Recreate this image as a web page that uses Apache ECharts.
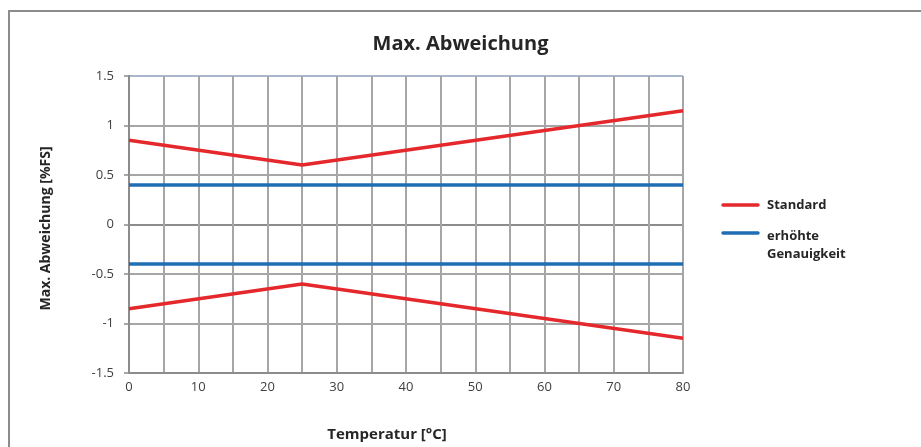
<!DOCTYPE html>
<html>
<head>
<meta charset="utf-8">
<title>Max. Abweichung</title>
<script src="https://cdn.jsdelivr.net/npm/echarts@6/dist/echarts.min.js"></script>
<style>
  html, body { margin: 0; padding: 0; background: #fff; }
  #chart { width: 921px; height: 447px; }
</style>
</head>
<body>
<div id="chart"></div>
<script>
// Temperature breakpoints (°C) and maximum deviation (%FS)
const stdTemps = [0, 25, 80];
const stdUpper = [0.85, 0.6, 1.15];
const stdLower = [-0.85, -0.6, -1.15];

const hiTemps = [0, 80];
const hiUpper = [0.4, 0.4];
const hiLower = [-0.4, -0.4];

const seriesNames = ['Standard', 'erhöhte Genauigkeit'];
const xTickLabels = [0, 10, 20, 30, 40, 50, 60, 70, 80];

const RED = '#e4282b';
const BLUE = '#1f6db4';
const FONT = '"Open Sans", "Noto Sans", sans-serif';

const pairs = (xs, ys) => xs.map((x, i) => [x, ys[i]]);

const chart = echarts.init(document.getElementById('chart'), null, { renderer: 'canvas' });

chart.setOption({
  animation: false,
  backgroundColor: '#fff',
  textStyle: { fontFamily: FONT },
  title: {
    text: 'Max. Abweichung',
    left: 'center',
    top: 29,
    textStyle: { fontFamily: FONT, fontSize: 20, fontWeight: 'bold', color: '#262626' }
  },
  grid: { left: 129, right: 238, top: 76, bottom: 73, containLabel: false },
  xAxis: {
    type: 'value',
    min: 0, max: 80, interval: 5,
    name: 'Temperatur [°C]',
    nameLocation: 'middle',
    nameGap: 54,
    nameTextStyle: { fontFamily: FONT, fontSize: 15, fontWeight: 'bold', color: '#262626', padding: [0, 38, 0, 0] },
    axisLine: { show: true, onZero: false, lineStyle: { color: '#8c8c8c', width: 2 } },
    axisTick: { show: false },
    axisLabel: {
      margin: 8, fontSize: 13, color: '#404040', fontFamily: FONT,
      formatter: v => (xTickLabels.indexOf(v) >= 0 ? String(v) : '')
    },
    splitLine: { show: true, lineStyle: { color: '#a6a6a6', width: 2 } }
  },
  yAxis: {
    type: 'value',
    min: -1.5, max: 1.5, interval: 0.5,
    name: 'Max. Abweichung [%FS]',
    nameLocation: 'middle',
    nameGap: 76,
    nameTextStyle: { fontFamily: FONT, fontSize: 14, fontWeight: 'bold', color: '#262626', padding: [0, 8, 0, 0] },
    axisLine: { show: true, lineStyle: { color: '#8c8c8c', width: 2 } },
    axisTick: { show: true, length: 5, inside: false, lineStyle: { color: '#8c8c8c', width: 1.5 } },
    axisLabel: { margin: 15, fontSize: 13, color: '#404040', fontFamily: FONT },
    splitLine: {
      show: true,
      lineStyle: {
        color: ['#a6a6a6', '#a6a6a6', '#a6a6a6', '#8c8c8c', '#a6a6a6', '#a6a6a6', '#a9b7cd'],
        width: 2
      }
    }
  },
  series: [
    { name: seriesNames[0], type: 'line', data: pairs(stdTemps, stdUpper), showSymbol: false,
      lineStyle: { color: RED, width: 3.5 }, itemStyle: { color: RED }, z: 3 },
    { name: seriesNames[0], type: 'line', data: pairs(stdTemps, stdLower), showSymbol: false,
      lineStyle: { color: RED, width: 3.5 }, itemStyle: { color: RED }, z: 3 },
    { name: seriesNames[1], type: 'line', data: pairs(hiTemps, hiUpper), showSymbol: false,
      lineStyle: { color: BLUE, width: 3.5 }, itemStyle: { color: BLUE }, z: 3 },
    { name: seriesNames[1], type: 'line', data: pairs(hiTemps, hiLower), showSymbol: false,
      lineStyle: { color: BLUE, width: 3.5 }, itemStyle: { color: BLUE }, z: 3 }
  ],
  graphic: [
    // outer frame
    { type: 'rect', shape: { x: 9, y: 11, width: 1000, height: 500 },
      style: { fill: 'none', stroke: '#8c8c8c', lineWidth: 2 }, silent: true, z: -1 },
    // legend
    { type: 'line', shape: { x1: 723, y1: 205, x2: 758, y2: 205 },
      style: { stroke: RED, lineWidth: 3.5, lineCap: 'round' } },
    { type: 'text', x: 767, y: 205,
      style: { text: 'Standard', font: 'bold 13px ' + FONT, fill: '#262626', textVerticalAlign: 'middle' } },
    { type: 'line', shape: { x1: 723, y1: 233, x2: 758, y2: 233 },
      style: { stroke: BLUE, lineWidth: 3.5, lineCap: 'round' } },
    { type: 'text', x: 767, y: 236,
      style: { text: 'erhöhte', font: 'bold 13px ' + FONT, fill: '#262626', textVerticalAlign: 'middle' } },
    { type: 'text', x: 767, y: 254,
      style: { text: 'Genauigkeit', font: 'bold 13px ' + FONT, fill: '#262626', textVerticalAlign: 'middle' } }
  ]
});
</script>
</body>
</html>
